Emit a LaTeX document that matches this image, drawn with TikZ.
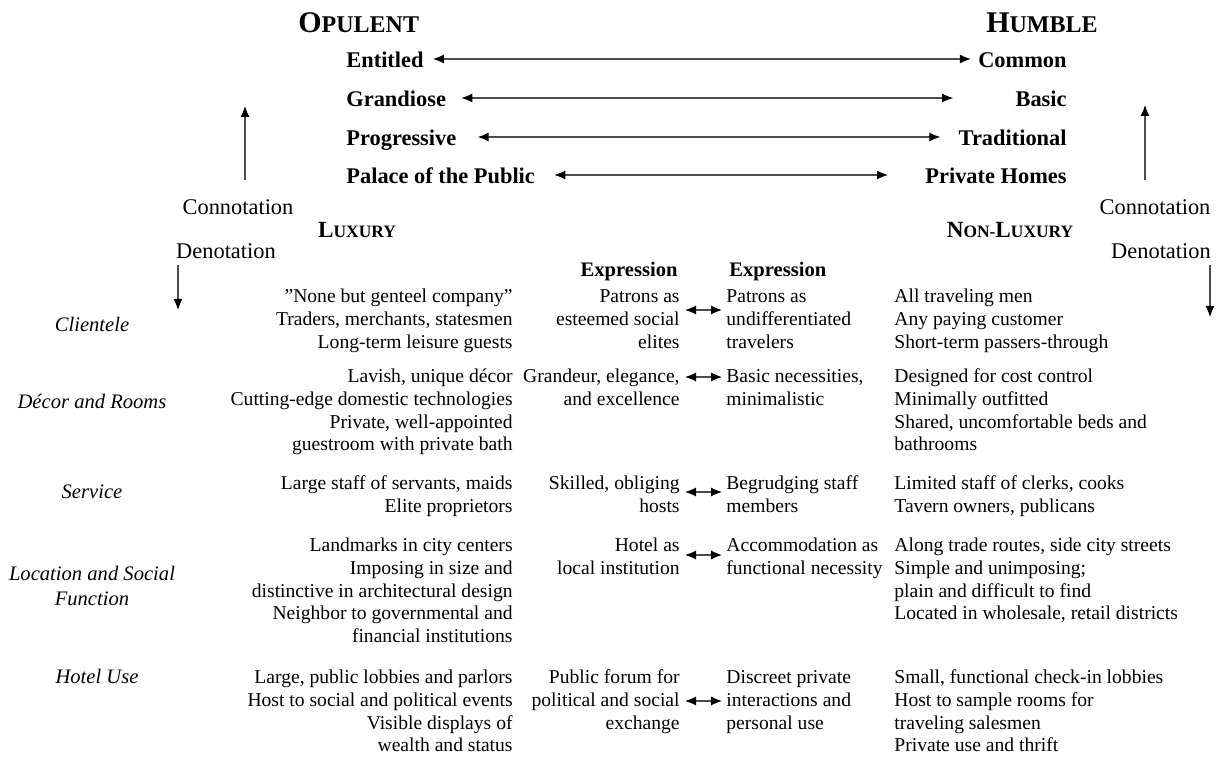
\documentclass[tikz,border=0pt]{standalone}
\usepackage{fontspec}
\setmainfont{Liberation Serif}
\usetikzlibrary{arrows.meta}

\newcommand{\polesc}[2]{{\fontsize{15}{15}\selectfont #1}{\fontsize{12}{12}\selectfont #2}}
\newcommand{\kindsc}[2]{{\fontsize{11.6}{12}\selectfont #1}{\fontsize{8.7}{9}\selectfont #2}}

\tikzset{
  body/.style={font=\fontsize{9.8}{11.3}\selectfont, inner sep=0pt},
  lcol/.style={body, align=right, anchor=base east},
  rcol/.style={body, align=left, anchor=base west},
  cat/.style={font=\fontsize{10.3}{12.5}\selectfont\itshape, align=center, anchor=base, inner sep=0pt},
  pole/.style={font=\fontsize{11.2}{13}\selectfont\bfseries, inner sep=0pt, text height=9pt, text depth=0pt},
  hdr/.style={font=\fontsize{10.3}{12}\selectfont\bfseries, inner sep=0pt},
  axis/.style={font=\fontsize{11.2}{13}\selectfont, inner sep=0pt, anchor=base},
  arr/.style={draw=black!70, line width=0.55pt, -{Latex[length=5.5pt,width=4.5pt,black]}},
  dbl/.style={draw=black!70, line width=0.55pt, {Latex[length=5.5pt,width=4.5pt,black]}-{Latex[length=5.5pt,width=4.5pt,black]}},
}

\begin{document}
\begin{tikzpicture}[x=0.5pt,y=-0.5pt]
  \useasboundingbox (0,0) rectangle (1217,758);

  \node[inner sep=0pt, anchor=base west, font=\bfseries] (opu) at (298,33) {\polesc{O}{PULENT}};
  \node[inner sep=0pt, anchor=base east, font=\bfseries] (hum) at (1098,33) {\polesc{H}{UMBLE}};

  \node[pole, anchor=base west] (ent) at (346,68) {Entitled};
  \node[pole, anchor=base east] (com) at (1067,68) {Common};
  \node[pole, anchor=base west] (gra) at (346,107) {Grandiose};
  \node[pole, anchor=base east] (bas) at (1067,107) {Basic};
  \node[pole, anchor=base west] (pro) at (346,146) {Progressive};
  \node[pole, anchor=base east] (tra) at (1067,146) {Traditional};
  \node[pole, anchor=base west] (pal) at (346,184) {Palace of the Public};
  \node[pole, anchor=base east] (pri) at (1067,184) {Private Homes};
  \draw[dbl, shorten <=4.5pt, shorten >=3.5pt] (ent.east) -- (com.west);
  \draw[dbl, shorten <=7.5pt, shorten >=31pt] (gra.east) -- (bas.west);
  \draw[dbl, shorten <=10.5pt, shorten >=9pt] (pro.east) -- (tra.west);
  \draw[dbl, shorten <=9.5pt, shorten >=18.5pt] (pal.east) -- (pri.west);

  \node[axis] (conL) at (238,215) {Connotation};
  \node[axis] (denL) at (226,259) {Denotation};
  \node[axis] (conR) at (1155,215) {Connotation};
  \node[axis] (denR) at (1161,259) {Denotation};
  \coordinate (upL) at (245,106);
  \coordinate (dnL) at (178,310);
  \coordinate (upR) at (1145,105);
  \coordinate (dnR) at (1210,317);
  \draw[arr] (upL |- 0,180) -- (upL);
  \draw[arr] (dnL |- 0,265) -- (dnL);
  \draw[arr] (upR |- 0,180) -- (upR);
  \draw[arr] (dnR |- 0,265) -- (dnR);

  \node[inner sep=0pt, anchor=base, font=\bfseries] (lux) at (357,238) {\kindsc{L}{UXURY}};
  \node[inner sep=0pt, anchor=base, font=\bfseries] (nlux) at (1010,238) {\kindsc{N}{ON-}\kindsc{L}{UXURY}};

  \node[hdr, anchor=base east] (hdrL) at (678,277) {Expression};
  \node[hdr, anchor=base west] (hdrR) at (729,277) {Expression};

  % categories (base = last line)
  \node[cat] (catA) at (92,332) {Clientele};
  \node[cat] (catB) at (92,409) {Décor and Rooms};
  \node[cat] (catC) at (92,499) {Service};
  \node[cat] (catD) at (92,606) {Location and Social\\Function};
  \node[cat] (catE) at (97,684) {Hotel Use};

  % luxury
  \node[lcol] (luxA) at (513,348.2) {”None but genteel company”\\Traders, merchants, statesmen\\Long-term leisure guests};
  \node[lcol] (luxB) at (513,450.8) {Lavish, unique décor\\Cutting-edge domestic technologies\\Private, well-appointed\\guestroom with private bath};
  \node[lcol] (luxC) at (513,512.6) {Large staff of servants, maids\\Elite proprietors};
  \node[lcol] (luxD) at (513,642.4) {Landmarks in city centers\\Imposing in size and\\distinctive in architectural design\\Neighbor to governmental and\\financial institutions};
  \node[lcol] (luxE) at (513,751.8) {Large, public lobbies and parlors\\Host to social and political events\\Visible displays of\\wealth and status};

  % expression
  \node[lcol] (exLA) at (680,348.2) {Patrons as\\esteemed social\\elites};
  \node[lcol] (exLB) at (680,405.6) {Grandeur, elegance,\\and excellence};
  \node[lcol] (exLC) at (680,512.6) {Skilled, obliging\\hosts};
  \node[lcol] (exLD) at (680,574.6) {Hotel as\\local institution};
  \node[lcol] (exLE) at (680,729.2) {Public forum for\\political and social\\exchange};
  \node[rcol] (exRA) at (726,348.2) {Patrons as\\undifferentiated\\travelers};
  \node[rcol] (exRB) at (726,405.6) {Basic necessities,\\minimalistic};
  \node[rcol] (exRC) at (726,512.6) {Begrudging staff\\members};
  \node[rcol] (exRD) at (726,574.6) {Accommodation as\\functional necessity};
  \node[rcol] (exRE) at (726,729.2) {Discreet private\\interactions and\\personal use};
  \coordinate (rowA) at (0,310);
  \coordinate (rowB) at (0,377);
  \coordinate (rowC) at (0,492);
  \coordinate (rowD) at (0,555);
  \coordinate (rowE) at (0,701);
  \draw[dbl, shorten <=2.5pt, shorten >=2pt] (exLA.east |- rowA) -- (exRA.west |- rowA);
  \draw[dbl, shorten <=2.5pt, shorten >=2pt] (exLB.east |- rowB) -- (exRB.west |- rowB);
  \draw[dbl, shorten <=2.5pt, shorten >=2pt] (exLC.east |- rowC) -- (exRC.west |- rowC);
  \draw[dbl, shorten <=2.5pt, shorten >=2pt] (exLD.east |- rowD) -- (exRD.west |- rowD);
  \draw[dbl, shorten <=2.5pt, shorten >=2pt] (exLE.east |- rowE) -- (exRE.west |- rowE);

  % non-luxury
  \node[rcol] (nluxA) at (894,348.2) {All traveling men\\Any paying customer\\Short-term passers-through};
  \node[rcol] (nluxB) at (894,450.8) {Designed for cost control\\Minimally outfitted\\Shared, uncomfortable beds and\\bathrooms};
  \node[rcol] (nluxC) at (894,512.6) {Limited staff of clerks, cooks\\Tavern owners, publicans};
  \node[rcol] (nluxD) at (894,619.8) {Along trade routes, side city streets\\Simple and unimposing;\\plain and difficult to find\\Located in wholesale, retail districts};
  \node[rcol] (nluxE) at (894,751.8) {Small, functional check-in lobbies\\Host to sample rooms for\\traveling salesmen\\Private use and thrift};
\end{tikzpicture}
\end{document}
